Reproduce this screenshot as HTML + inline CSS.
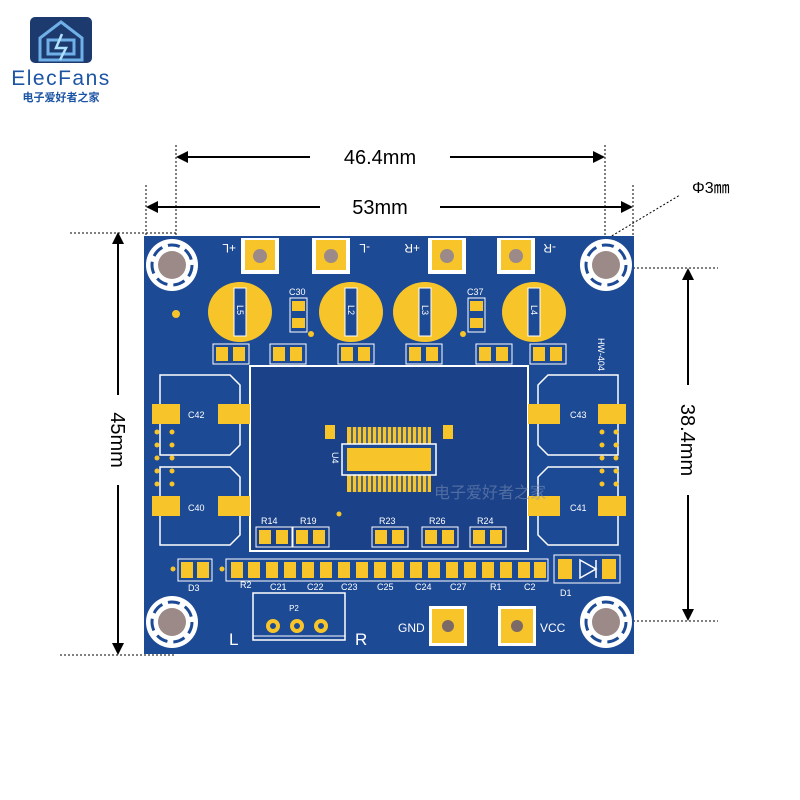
<!DOCTYPE html>
<html><head><meta charset="utf-8"><style>
body{margin:0;background:#fff;}
svg{display:block;font-family:"Liberation Sans","Noto Sans CJK SC",sans-serif;}
</style></head><body>
<svg width="800" height="800" viewBox="0 0 800 800">
<!-- logo -->
<rect x="30" y="17" width="62" height="46" rx="5" fill="#1c3a6e"/>
<path d="M61 22 L82 38 L82 60 L40 60 L40 38 Z" fill="none" stroke="#6fb0e8" stroke-width="3"/>
<path d="M48 40 H74 V54 H48 Z" fill="none" stroke="#6fb0e8" stroke-width="3"/>
<path d="M62 34 L56 48 H66 L60 60" fill="none" stroke="#aee0ff" stroke-width="2.5"/>
<text x="61" y="85" font-size="21" fill="#1d55a5" text-anchor="middle" letter-spacing="1.5">ElecFans</text>
<text x="61" y="101" font-size="11" fill="#1d55a5" text-anchor="middle" font-weight="bold">电子爱好者之家</text>

<!-- dimension lines -->
<g stroke="#000" stroke-width="1" stroke-dasharray="2,2" fill="none">
<line x1="176" y1="145" x2="176" y2="240"/><line x1="605" y1="145" x2="605" y2="240"/>
<line x1="146" y1="185" x2="146" y2="236"/><line x1="633" y1="185" x2="633" y2="236"/>
<line x1="70" y1="233" x2="176" y2="233"/><line x1="60" y1="655" x2="176" y2="655"/>
<line x1="605" y1="268" x2="718" y2="268"/><line x1="605" y1="621" x2="718" y2="621"/>
<line x1="605" y1="240" x2="680" y2="195"/>
</g>
<g stroke="#000" stroke-width="2">
<line x1="180" y1="157" x2="310" y2="157"/><line x1="450" y1="157" x2="602" y2="157"/>
<line x1="149" y1="207" x2="320" y2="207"/><line x1="440" y1="207" x2="630" y2="207"/>
<line x1="118" y1="236" x2="118" y2="395"/><line x1="118" y1="485" x2="118" y2="651"/>
<line x1="688" y1="272" x2="688" y2="385"/><line x1="688" y1="495" x2="688" y2="617"/>
</g>
<g fill="#000">
<path d="M176 157 l12 -6 v12z"/><path d="M605 157 l-12 -6 v12z"/>
<path d="M146 207 l12 -6 v12z"/><path d="M633 207 l-12 -6 v12z"/>
<path d="M118 232 l-6 12 h12z"/><path d="M118 655 l-6 -12 h12z"/>
<path d="M688 268 l-6 12 h12z"/><path d="M688 621 l-6 -12 h12z"/>
</g>
<text x="380" y="164" font-size="20" text-anchor="middle">46.4mm</text>
<text x="380" y="214" font-size="20" text-anchor="middle">53mm</text>
<text x="692" y="193" font-size="16">Φ3㎜</text>
<text transform="translate(111,440) rotate(90)" font-size="20" text-anchor="middle">45mm</text>
<text transform="translate(681,440) rotate(90)" font-size="20" text-anchor="middle">38.4mm</text>

<!-- board -->
<rect x="144" y="236" width="490" height="418" fill="#1d4a94"/>
<!-- holes -->
<g>
<circle cx="172" cy="265" r="26" fill="#fff"/><circle cx="606" cy="265" r="26" fill="#fff"/>
<circle cx="172" cy="622" r="26" fill="#fff"/><circle cx="606" cy="622" r="26" fill="#fff"/>
<g fill="none" stroke="#1d4a94" stroke-width="3" stroke-dasharray="12,6">
<circle cx="172" cy="265" r="20"/><circle cx="606" cy="265" r="20"/>
<circle cx="172" cy="622" r="20"/><circle cx="606" cy="622" r="20"/></g>
<g fill="#9b8a88"><circle cx="172" cy="265" r="14"/><circle cx="606" cy="265" r="14"/>
<circle cx="172" cy="622" r="14"/><circle cx="606" cy="622" r="14"/></g>
</g>
<!-- top terminals -->
<g>
<rect x="241" y="238" width="38" height="36" fill="#fff"/><rect x="245" y="240" width="30" height="30" fill="#f7c52a"/>
<rect x="312" y="238" width="38" height="36" fill="#fff"/><rect x="316" y="240" width="30" height="30" fill="#f7c52a"/>
<rect x="428" y="238" width="38" height="36" fill="#fff"/><rect x="432" y="240" width="30" height="30" fill="#f7c52a"/>
<rect x="497" y="238" width="38" height="36" fill="#fff"/><rect x="501" y="240" width="30" height="30" fill="#f7c52a"/>
<g fill="#9b8a88"><circle cx="260" cy="256" r="7"/><circle cx="331" cy="256" r="7"/><circle cx="447" cy="256" r="7"/><circle cx="516" cy="256" r="7"/></g>
</g>
<g fill="#fff" font-size="12">
<text transform="translate(236,244) rotate(180)">+L</text>
<text transform="translate(370,244) rotate(180)">-L</text>
<text transform="translate(420,244) rotate(180)">+R</text>
<text transform="translate(556,244) rotate(180)">-R</text>
</g>
<!-- inductors -->
<g fill="#f7c52a">
<ellipse cx="240" cy="312" rx="32" ry="30"/><ellipse cx="351" cy="312" rx="32" ry="30"/>
<ellipse cx="425" cy="312" rx="32" ry="30"/><ellipse cx="534" cy="312" rx="32" ry="30"/>
</g>
<g fill="#1d4a94" stroke="#fff" stroke-width="1">
<rect x="234" y="288" width="12" height="48"/><rect x="345" y="288" width="12" height="48"/>
<rect x="419" y="288" width="12" height="48"/><rect x="528" y="288" width="12" height="48"/>
</g>
<g fill="#fff" font-size="9">
<text transform="translate(237,305) rotate(90)">L5</text><text transform="translate(348,305) rotate(90)">L2</text>
<text transform="translate(422,305) rotate(90)">L3</text><text transform="translate(531,305) rotate(90)">L4</text>
<text transform="translate(598,338) rotate(90)">HW-404</text>
</g>
<!-- C30, C37 -->
<g fill="none" stroke="#fff"><rect x="290" y="298" width="17" height="34"/><rect x="468" y="298" width="17" height="34"/></g>
<g fill="#f7c52a"><rect x="292" y="301" width="13" height="10"/><rect x="292" y="318" width="13" height="10"/>
<rect x="470" y="301" width="13" height="10"/><rect x="470" y="318" width="13" height="10"/>
<circle cx="176" cy="314" r="4"/><circle cx="311" cy="334" r="3"/><circle cx="463" cy="334" r="3"/></g>
<g fill="#fff" font-size="9"><text x="289" y="295">C30</text><text x="467" y="295">C37</text></g>
<!-- small pads row -->
<g fill="none" stroke="#fff">
<rect x="213" y="344" width="36" height="20"/><rect x="270" y="344" width="36" height="20"/>
<rect x="338" y="344" width="36" height="20"/><rect x="406" y="344" width="36" height="20"/>
<rect x="476" y="344" width="36" height="20"/><rect x="530" y="344" width="36" height="20"/>
</g>
<g fill="#f7c52a">
<rect x="216" y="347" width="12" height="14"/><rect x="233" y="347" width="12" height="14"/>
<rect x="273" y="347" width="12" height="14"/><rect x="290" y="347" width="12" height="14"/>
<rect x="341" y="347" width="12" height="14"/><rect x="358" y="347" width="12" height="14"/>
<rect x="409" y="347" width="12" height="14"/><rect x="426" y="347" width="12" height="14"/>
<rect x="479" y="347" width="12" height="14"/><rect x="496" y="347" width="12" height="14"/>
<rect x="533" y="347" width="12" height="14"/><rect x="550" y="347" width="12" height="14"/>
</g>
<!-- center -->
<rect x="250" y="366" width="278" height="185" fill="#1b4289" stroke="#fff" stroke-width="2"/>
<g fill="#f7c52a">
<rect x="347" y="427" width="84" height="17"/><rect x="347" y="475" width="84" height="17"/>
<rect x="325" y="425" width="10" height="14"/><rect x="443" y="425" width="10" height="14"/>
</g>
<g stroke="#1d4a94" stroke-width="1.5">
<path d="M352 427v17M357 427v17M362 427v17M367 427v17M372 427v17M377 427v17M382 427v17M387 427v17M392 427v17M397 427v17M402 427v17M407 427v17M412 427v17M417 427v17M422 427v17M427 427v17"/>
<path d="M352 475v17M357 475v17M362 475v17M367 475v17M372 475v17M377 475v17M382 475v17M387 475v17M392 475v17M397 475v17M402 475v17M407 475v17M412 475v17M417 475v17M422 475v17M427 475v17"/>
</g>
<rect x="342" y="444" width="94" height="31" fill="#1d4a94" stroke="#fff" stroke-width="1.5"/>
<rect x="347" y="448" width="84" height="23" fill="#f7c52a"/>
<text transform="translate(332,452) rotate(90)" fill="#fff" font-size="9">U4</text>
<!-- left/right caps -->
<g fill="none" stroke="#fff" stroke-width="1.5">
<path d="M160 375 H230 L240 385 V445 L230 455 H160 Z"/>
<path d="M160 467 H230 L240 477 V535 L230 545 H160 Z"/>
<path d="M618 375 H548 L538 385 V445 L548 455 H618 Z"/>
<path d="M618 467 H548 L538 477 V535 L548 545 H618 Z"/>
</g>
<g fill="#f7c52a">
<rect x="152" y="404" width="28" height="20"/><rect x="218" y="404" width="32" height="20"/>
<rect x="152" y="496" width="28" height="20"/><rect x="218" y="496" width="32" height="20"/>
<rect x="528" y="404" width="32" height="20"/><rect x="598" y="404" width="28" height="20"/>
<rect x="528" y="496" width="32" height="20"/><rect x="598" y="496" width="28" height="20"/>
<circle cx="157" cy="432" r="2.5"/><circle cx="172" cy="432" r="2.5"/><circle cx="157" cy="445" r="2.5"/><circle cx="172" cy="445" r="2.5"/>
<circle cx="157" cy="458" r="2.5"/><circle cx="172" cy="458" r="2.5"/><circle cx="157" cy="471" r="2.5"/><circle cx="172" cy="471" r="2.5"/><circle cx="157" cy="484" r="2.5"/><circle cx="172" cy="484" r="2.5"/>
<circle cx="602" cy="432" r="2.5"/><circle cx="616" cy="432" r="2.5"/><circle cx="602" cy="445" r="2.5"/><circle cx="616" cy="445" r="2.5"/>
<circle cx="602" cy="458" r="2.5"/><circle cx="616" cy="458" r="2.5"/><circle cx="602" cy="471" r="2.5"/><circle cx="616" cy="471" r="2.5"/><circle cx="602" cy="484" r="2.5"/><circle cx="616" cy="484" r="2.5"/>
</g>
<g fill="#fff" font-size="9">
<text x="188" y="418">C42</text><text x="188" y="511">C40</text>
<text x="570" y="418">C43</text><text x="570" y="511">C41</text>
</g>
<!-- R14.. inside -->
<g fill="none" stroke="#fff"><rect x="256" y="527" width="36" height="20"/><rect x="293" y="527" width="36" height="20"/>
<rect x="372" y="527" width="36" height="20"/><rect x="422" y="527" width="36" height="20"/><rect x="470" y="527" width="36" height="20"/></g>
<g fill="#f7c52a">
<rect x="259" y="530" width="12" height="14"/><rect x="276" y="530" width="12" height="14"/>
<rect x="296" y="530" width="12" height="14"/><rect x="313" y="530" width="12" height="14"/>
<rect x="375" y="530" width="12" height="14"/><rect x="392" y="530" width="12" height="14"/>
<rect x="425" y="530" width="12" height="14"/><rect x="442" y="530" width="12" height="14"/>
<rect x="473" y="530" width="12" height="14"/><rect x="490" y="530" width="12" height="14"/>
<circle cx="339" cy="514" r="2.5"/>
</g>
<g fill="#fff" font-size="9"><text x="261" y="524">R14</text><text x="300" y="524">R19</text><text x="379" y="524">R23</text><text x="429" y="524">R26</text><text x="477" y="524">R24</text></g>
<text x="490" y="498" fill="#7d8fb5" opacity="0.55" font-size="16" text-anchor="middle">电子爱好者之家</text>
<!-- bottom row -->
<rect x="178" y="559" width="34" height="22" fill="none" stroke="#fff"/>
<rect x="226" y="559" width="322" height="22" fill="none" stroke="#fff"/>
<g fill="#f7c52a">
<rect x="181" y="562" width="12" height="16"/><rect x="197" y="562" width="12" height="16"/>
<rect x="231" y="562" width="12" height="16"/><rect x="248" y="562" width="12" height="16"/><rect x="266" y="562" width="12" height="16"/><rect x="284" y="562" width="12" height="16"/>
<rect x="302" y="562" width="12" height="16"/><rect x="320" y="562" width="12" height="16"/><rect x="338" y="562" width="12" height="16"/><rect x="356" y="562" width="12" height="16"/>
<rect x="374" y="562" width="12" height="16"/><rect x="392" y="562" width="12" height="16"/><rect x="410" y="562" width="12" height="16"/><rect x="428" y="562" width="12" height="16"/>
<rect x="446" y="562" width="12" height="16"/><rect x="464" y="562" width="12" height="16"/><rect x="482" y="562" width="12" height="16"/><rect x="500" y="562" width="12" height="16"/>
<rect x="518" y="562" width="12" height="16"/><rect x="534" y="562" width="12" height="16"/>
<rect x="558" y="559" width="14" height="20"/><rect x="602" y="559" width="14" height="20"/>
<circle cx="173" cy="569" r="2.5"/><circle cx="222" cy="569" r="2.5"/>
</g>
<rect x="554" y="555" width="66" height="28" fill="none" stroke="#fff"/>
<path d="M580 560 L596 569 L580 578 Z M596 560 V578" fill="none" stroke="#fff" stroke-width="1.5"/>
<g fill="#fff" font-size="9">
<text x="188" y="591">D3</text><text x="240" y="588">R2</text><text x="270" y="590">C21</text><text x="307" y="590">C22</text>
<text x="341" y="590">C23</text><text x="377" y="590">C25</text><text x="415" y="590">C24</text><text x="450" y="590">C27</text>
<text x="490" y="590">R1</text><text x="524" y="590">C2</text><text x="560" y="596">D1</text>
</g>
<!-- connector -->
<rect x="253" y="593" width="92" height="47" fill="none" stroke="#fff" stroke-width="1.5"/>
<line x1="253" y1="636" x2="345" y2="636" stroke="#fff"/>
<text x="294" y="611" fill="#fff" font-size="8" text-anchor="middle">P2</text>
<g fill="#1d4a94" stroke="#f7c52a" stroke-width="4"><circle cx="273" cy="626" r="5"/><circle cx="297" cy="626" r="5"/><circle cx="321" cy="626" r="5"/></g>
<text x="229" y="645" fill="#fff" font-size="17">L</text><text x="355" y="645" fill="#fff" font-size="17">R</text>
<rect x="429" y="606" width="38" height="40" fill="#fff"/><rect x="432" y="609" width="32" height="34" fill="#f7c52a"/>
<rect x="498" y="606" width="38" height="40" fill="#fff"/><rect x="501" y="609" width="32" height="34" fill="#f7c52a"/>
<circle cx="448" cy="626" r="6" fill="#7b6a66"/><circle cx="517" cy="626" r="6" fill="#7b6a66"/>
<text x="398" y="632" fill="#fff" font-size="12">GND</text><text x="540" y="632" fill="#fff" font-size="12">VCC</text>
</svg>
</body></html>
